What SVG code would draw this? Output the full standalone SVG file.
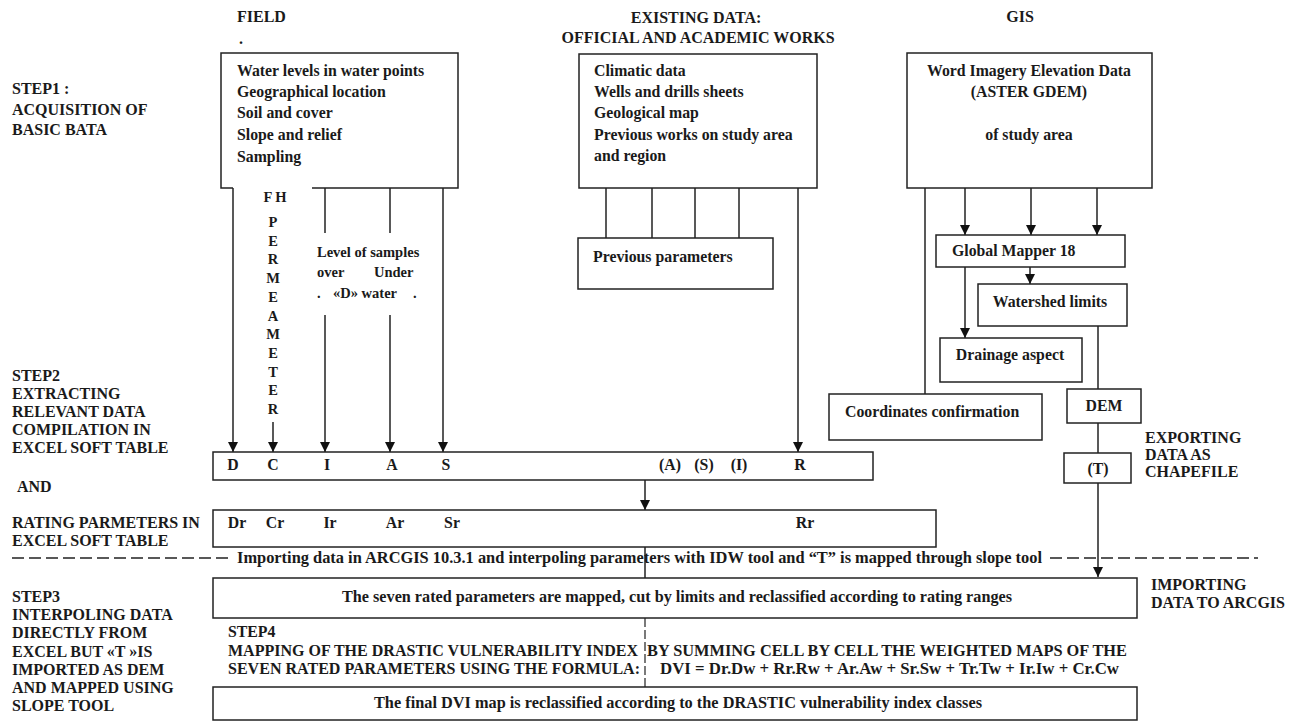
<svg xmlns="http://www.w3.org/2000/svg" width="1302" height="722" viewBox="0 0 1302 722">
<defs>
<style>
.t{font-family:"Liberation Serif","Times New Roman",serif;font-weight:bold;font-size:15.8px;fill:#1a1a1a}
.h{font-size:16px}
.L{font-size:16px}
.s{font-size:14.5px}
.m{text-anchor:middle}
.box{fill:#fff;stroke:#222;stroke-width:1.5}
.ln{stroke:#222;stroke-width:1.5;fill:none}
.dash{stroke:#222;stroke-width:1.5;fill:none;stroke-dasharray:12,5}
.vdash{stroke:#222;stroke-width:1.2;fill:none;stroke-dasharray:9,3}
</style>
<marker id="ar" viewBox="0 0 10 10" refX="10" refY="5" markerUnits="userSpaceOnUse" markerWidth="10" markerHeight="10" orient="auto">
<path d="M0,0 L10,5 L0,10 z" fill="#111"/>
</marker>
</defs>
<rect width="1302" height="722" fill="#fff"/>

<g id="headers">
<text class="t h" x="237" y="22">FIELD</text>
<text class="t h" x="239" y="44">.</text>
<text class="t h m" x="696" y="23">EXISTING DATA:</text>
<text class="t h m" x="698" y="43">OFFICIAL  AND ACADEMIC  WORKS</text>
<text class="t h m" x="1020" y="22">GIS</text>
</g>

<g id="step-labels">
<text class="t L" x="12" y="94">STEP1 :</text>
<text class="t L" x="12" y="115">ACQUISITION OF</text>
<text class="t L" x="12" y="135">BASIC BATA</text>
<text class="t L" x="12" y="381">STEP2</text>
<text class="t L" x="12" y="399">EXTRACTING</text>
<text class="t L" x="12" y="417">RELEVANT DATA</text>
<text class="t L" x="12" y="435">COMPILATION IN</text>
<text class="t L" x="12" y="453">EXCEL SOFT TABLE</text>
<text class="t L" x="17" y="492">AND</text>
<text class="t L" x="12" y="528">RATING  PARMETERS IN</text>
<text class="t L" x="12" y="546">EXCEL SOFT TABLE</text>
<text class="t L" x="12" y="602">STEP3</text>
<text class="t L" x="12" y="620">INTERPOLING DATA</text>
<text class="t L" x="12" y="638">DIRECTLY FROM</text>
<text class="t L" x="12" y="657">EXCEL BUT «T »IS</text>
<text class="t L" x="12" y="675">IMPORTED AS DEM</text>
<text class="t L" x="12" y="693">AND MAPPED  USING</text>
<text class="t L" x="12" y="711">SLOPE TOOL</text>
<text class="t L" x="1145" y="443">EXPORTING</text>
<text class="t L" x="1145" y="460">DATA AS</text>
<text class="t L" x="1145" y="477">CHAPEFILE</text>
<text class="t L" x="1151" y="590">IMPORTING</text>
<text class="t L" x="1151" y="608">DATA TO ARCGIS</text>
</g>

<g id="connectors">
<line class="ln" x1="233" y1="188" x2="233" y2="452" marker-end="url(#ar)"/>
<line class="ln" x1="273" y1="422" x2="273" y2="452" marker-end="url(#ar)"/>
<line class="ln" x1="325" y1="188" x2="325" y2="233"/>
<line class="ln" x1="325" y1="315" x2="325" y2="452" marker-end="url(#ar)"/>
<line class="ln" x1="390" y1="188" x2="390" y2="233"/>
<line class="ln" x1="390" y1="315" x2="390" y2="452" marker-end="url(#ar)"/>
<line class="ln" x1="443" y1="188" x2="443" y2="452" marker-end="url(#ar)"/>
<line class="ln" x1="798" y1="185" x2="798" y2="452" marker-end="url(#ar)"/>
<line class="ln" x1="606" y1="188" x2="606" y2="238"/>
<line class="ln" x1="652" y1="188" x2="652" y2="238"/>
<line class="ln" x1="695" y1="188" x2="695" y2="238"/>
<line class="ln" x1="739" y1="188" x2="739" y2="240"/>
<line class="ln" x1="925" y1="188" x2="925" y2="394"/>
<line class="ln" x1="965" y1="188" x2="965" y2="235" marker-end="url(#ar)"/>
<line class="ln" x1="1031" y1="188" x2="1031" y2="235" marker-end="url(#ar)"/>
<line class="ln" x1="1097" y1="188" x2="1097" y2="235" marker-end="url(#ar)"/>
<line class="ln" x1="965" y1="267" x2="965" y2="338" marker-end="url(#ar)"/>
<line class="ln" x1="1030" y1="267" x2="1030" y2="284" marker-end="url(#ar)"/>
<line class="ln" x1="1098" y1="326" x2="1098" y2="389"/>
<line class="ln" x1="1098" y1="423" x2="1098" y2="453"/>
<line class="ln" x1="1098" y1="483" x2="1098" y2="577" marker-end="url(#ar)"/>
<line class="ln" x1="645" y1="480" x2="645" y2="510" marker-end="url(#ar)"/>
<line class="ln" x1="645" y1="547" x2="645" y2="578"/>
<line class="vdash" x1="645" y1="618" x2="645" y2="687"/>
<line class="dash" x1="12" y1="558" x2="228" y2="558"/>
<line class="dash" x1="1050" y1="558" x2="1258" y2="558"/>
</g>

<g id="field">
<path class="ln" d="M233,188 H221 V53 H458 V188 H312"/>
<text class="t" x="237" y="76">Water levels in water points</text>
<text class="t" x="237" y="97">Geographical location</text>
<text class="t" x="237" y="118">Soil and cover</text>
<text class="t" x="237" y="140">Slope and relief</text>
<text class="t" x="237" y="162">Sampling</text>
</g>

<g id="fh-permeameter">
<text class="t s m" x="275" y="202">F H</text>
<text class="t s m" x="273" y="227">P</text>
<text class="t s m" x="273" y="245.7">E</text>
<text class="t s m" x="273" y="264.4">R</text>
<text class="t s m" x="273" y="283.1">M</text>
<text class="t s m" x="273" y="301.8">E</text>
<text class="t s m" x="273" y="320.5">A</text>
<text class="t s m" x="273" y="339.2">M</text>
<text class="t s m" x="273" y="357.9">E</text>
<text class="t s m" x="273" y="376.6">T</text>
<text class="t s m" x="273" y="395.3">E</text>
<text class="t s m" x="273" y="414">R</text>
</g>

<g id="level-samples">
<text class="t s" x="317" y="257">Level of samples</text>
<text class="t s" x="317" y="277">over</text>
<text class="t s" x="374" y="277">Under</text>
<text class="t s" y="298"><tspan x="317">.</tspan><tspan x="333">«D» water</tspan><tspan x="413">.</tspan></text>
</g>

<g id="existing">
<rect class="box" x="579" y="54" width="238" height="134"/>
<text class="t" x="594" y="76">Climatic data</text>
<text class="t" x="594" y="97">Wells and drills sheets</text>
<text class="t" x="594" y="118">Geological map</text>
<text class="t" x="594" y="140">Previous works on study area</text>
<text class="t" x="594" y="161">and region</text>
</g>

<g id="previous-parameters">
<rect class="box" x="578" y="238" width="195" height="51"/>
<text class="t" x="593" y="262">Previous parameters</text>
</g>

<g id="gis">
<rect class="box" x="907" y="53" width="245" height="135"/>
<text class="t m" x="1029" y="76">Word Imagery Elevation Data</text>
<text class="t m" x="1029" y="97">(ASTER GDEM)</text>
<text class="t m" x="1029" y="140">of study area</text>
</g>

<g id="global-mapper">
<rect class="box" x="936" y="235" width="189" height="32"/>
<text class="t" x="952" y="256">Global Mapper 18</text>
</g>

<g id="watershed">
<rect class="box" x="978" y="284" width="149" height="42"/>
<text class="t m" x="1050" y="307">Watershed limits</text>
</g>

<g id="drainage">
<rect class="box" x="940" y="338" width="142" height="44"/>
<text class="t m" x="1010" y="360">Drainage aspect</text>
</g>

<g id="coordinates">
<rect class="box" x="829" y="394" width="213" height="46"/>
<text class="t" x="845" y="417">Coordinates confirmation</text>
</g>

<g id="dem">
<rect class="box" x="1067" y="389" width="74" height="34"/>
<text class="t m" x="1104" y="411">DEM</text>
</g>

<g id="t-box">
<rect class="box" x="1064" y="453" width="67" height="30"/>
<text class="t m" x="1098" y="474">(T)</text>
</g>

<g id="table-raw">
<rect class="box" x="213" y="452" width="660" height="28"/>
<text class="t m" x="233" y="470">D</text>
<text class="t m" x="273" y="470">C</text>
<text class="t m" x="327" y="470">I</text>
<text class="t m" x="392" y="470">A</text>
<text class="t m" x="446" y="470">S</text>
<text class="t m" x="670" y="470">(A)</text>
<text class="t m" x="704" y="470">(S)</text>
<text class="t m" x="739" y="470">(I)</text>
<text class="t m" x="800" y="470">R</text>
</g>

<g id="table-rated">
<rect class="box" x="213" y="510" width="723" height="37"/>
<text class="t m" x="237" y="528">Dr</text>
<text class="t m" x="275" y="528">Cr</text>
<text class="t m" x="330" y="528">Ir</text>
<text class="t m" x="395" y="528">Ar</text>
<text class="t m" x="452" y="528">Sr</text>
<text class="t m" x="805" y="528">Rr</text>
</g>

<g id="importing-note">
<text class="t" x="237" y="563" textLength="805" lengthAdjust="spacingAndGlyphs">Importing data in ARCGIS 10.3.1 and interpoling parameters with IDW tool and “T” is mapped through slope tool</text>
</g>

<g id="mapped">
<rect class="box" x="213" y="578" width="924" height="40"/>
<text class="t" x="342" y="602" textLength="670" lengthAdjust="spacingAndGlyphs">The seven rated parameters are mapped, cut by limits and reclassified according to rating ranges</text>
</g>

<g id="step4">
<text class="t" x="228" y="637">STEP4</text>
<text class="t" x="228" y="656" textLength="410" lengthAdjust="spacingAndGlyphs">MAPPING OF THE DRASTIC VULNERABILITY INDEX</text>
<text class="t" x="647" y="656" textLength="480" lengthAdjust="spacingAndGlyphs">BY SUMMING  CELL BY CELL THE WEIGHTED MAPS OF THE</text>
<text class="t" x="228" y="674" textLength="412" lengthAdjust="spacingAndGlyphs">SEVEN RATED PARAMETERS   USING THE FORMULA:</text>
<text class="t" x="660" y="674" textLength="459" lengthAdjust="spacingAndGlyphs">DVI = Dr.Dw + Rr.Rw + Ar.Aw + Sr.Sw + Tr.Tw + Ir.Iw + Cr.Cw</text>
</g>

<g id="final">
<rect class="box" x="213" y="687" width="924" height="33"/>
<text class="t" x="374" y="708" textLength="608" lengthAdjust="spacingAndGlyphs">The final DVI map is reclassified according to the DRASTIC vulnerability index classes</text>
</g>
</svg>
